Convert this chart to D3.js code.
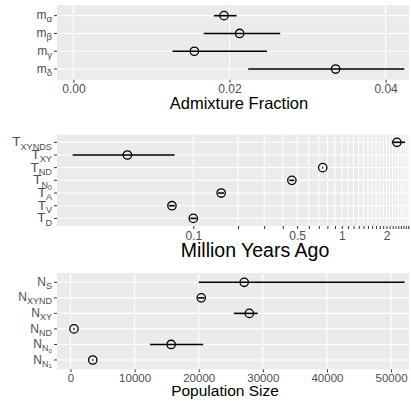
<!DOCTYPE html>
<html>
  <head>
    <title>Estimates</title>
    <script src="https://d3js.org/d3.v7.min.js"></script>
    <style>
      body { margin: 0; background: #ffffff; }
      text { font-family: "Liberation Sans", Arial, sans-serif; }
    </style>
  </head>
  <body>
    <svg width="411" height="405" id="mainsvg"></svg>
    <script>
        // ---- data ----
        // admixture fractions
        const admixLabels = [['m', 'α'], ['m', 'β'], ['m', 'γ'], ['m', 'δ']];
        const admixMean = [0.0193, 0.0213, 0.0155, 0.0336];
        const admixLow  = [0.0180, 0.0167, 0.0127, 0.0224];
        const admixHigh = [0.0209, 0.0265, 0.0248, 0.0424];
        const admixTicks = [0, 0.02, 0.04];
        const admixTickLabels = ['0.00', '0.02', '0.04'];

        // split times, million years ago (log axis)
        const timeLabels = [['T', 'XYNDS'], ['T', 'XY'], ['T', 'ND'], ['T', 'N', '0'], ['T', 'A'], ['T', 'V'], ['T', 'D']];
        const timeMean = [2.35, 0.036, 0.744, 0.461, 0.154, 0.0718, 0.100];
        const timeLow  = [2.17, 0.0154, 0.738, 0.443, 0.147, 0.0685, 0.0955];
        const timeHigh = [2.67, 0.0748, 0.750, 0.479, 0.161, 0.0750, 0.105];
        const timeTicks = [0.1, 0.2, 0.3, 0.4, 0.5, 0.6, 0.7, 0.8, 0.9, 1.0,
                           1.1, 1.2, 1.3, 1.4, 1.5, 1.6, 1.7, 1.8, 1.9, 2.0,
                           2.1, 2.2, 2.3, 2.4, 2.5, 2.6, 2.7, 2.8];
        const timeTickLabels = {0.1: '0.1', 0.5: '0.5', 1: '1', 2: '2'};

        // population sizes
        const popLabels = [['N', 'S'], ['N', 'XYND'], ['N', 'XY'], ['N', 'ND'], ['N', 'N', '0'], ['N', 'N', '1']];
        const popMean = [27100, 20400, 27900, 550, 15700, 3480];
        const popLow  = [20000, 19900, 25500, 450, 12400, 3380];
        const popHigh = [52100, 20900, 29200, 650, 20700, 3580];
        const popTicks = [0, 10000, 20000, 30000, 40000, 50000];

        const svg = d3.select('#mainsvg');
        const left = 57, right = 409;

        // one forest-plot panel
        const drawPanel = function(cfg){
            const g = svg.append('g');
            const yScale = d3.scalePoint()
                .domain(cfg.labels.map((d, i) => i))
                .range([cfg.top, cfg.bottom])
                .padding(0.6);
            const xScale = cfg.xScale;

            g.append('rect')
                .attr('x', left).attr('y', cfg.top)
                .attr('width', right - left).attr('height', cfg.bottom - cfg.top)
                .attr('fill', '#EBEBEB');

            // grid
            g.selectAll('.vgrid').data(cfg.ticks).enter().append('line')
                .attr('x1', d => xScale(d)).attr('x2', d => xScale(d))
                .attr('y1', cfg.top).attr('y2', cfg.bottom)
                .attr('stroke', '#ffffff').attr('stroke-width', cfg.gridWidth);
            g.selectAll('.hgrid').data(yScale.domain()).enter().append('line')
                .attr('x1', left).attr('x2', right)
                .attr('y1', d => yScale(d)).attr('y2', d => yScale(d))
                .attr('stroke', '#ffffff').attr('stroke-width', 1.1);

            // x axis
            const xAxis = d3.axisBottom(xScale)
                .tickValues(cfg.ticks)
                .tickFormat(cfg.format)
                .tickSize(3)
                .tickPadding(2);
            const xg = g.append('g')
                .attr('transform', `translate(0, ${cfg.bottom})`)
                .call(xAxis);
            xg.select('.domain').remove();
            xg.selectAll('line').attr('stroke', '#333333').attr('stroke-width', 1);
            xg.selectAll('text')
                .attr('fill', '#4D4D4D')
                .attr('font-size', cfg.tickFont + 'px')
                .style('font-family', '"Liberation Sans", Arial, sans-serif');
            xg.selectAll('text').filter(function(){ return this.textContent === ''; }).remove();

            // y tick marks
            g.selectAll('.ytick').data(yScale.domain()).enter().append('line')
                .attr('x1', left - 3).attr('x2', left)
                .attr('y1', d => yScale(d)).attr('y2', d => yScale(d))
                .attr('stroke', '#333333').attr('stroke-width', 1);

            // y labels with subscripts
            cfg.labels.forEach((lab, i) => {
                const t = g.append('text')
                    .attr('x', left - 5)
                    .attr('y', yScale(i) + cfg.labelFont * 0.3)
                    .attr('text-anchor', 'end')
                    .attr('fill', '#4D4D4D')
                    .attr('font-size', cfg.labelFont + 'px');
                t.append('tspan').text(lab[0]);
                if (lab[1]) {
                    t.append('tspan')
                        .attr('dy', cfg.labelFont * 0.25)
                        .attr('font-size', (cfg.labelFont * cfg.subRatio) + 'px')
                        .text(lab[1]);
                }
                if (lab[2]) {
                    t.append('tspan')
                        .attr('dy', cfg.labelFont * 0.15)
                        .attr('font-size', (cfg.labelFont * 0.52) + 'px')
                        .text(lab[2]);
                }
            });

            // error bars and points
            const rows = cfg.mean.map((m, i) => ({i: i, mean: m, low: cfg.low[i], high: cfg.high[i]}));
            g.selectAll('.bar').data(rows).enter().append('line')
                .attr('x1', d => xScale(d.low)).attr('x2', d => xScale(d.high))
                .attr('y1', d => yScale(d.i)).attr('y2', d => yScale(d.i))
                .attr('stroke', '#000000').attr('stroke-width', 1.6);
            g.selectAll('.pt').data(rows).enter().append('circle')
                .attr('cx', d => xScale(d.mean))
                .attr('cy', d => yScale(d.i))
                .attr('r', 4.2)
                .attr('fill', 'none')
                .attr('stroke', '#000000')
                .attr('stroke-width', 1.3);

            // axis title
            g.append('text')
                .attr('x', cfg.titleX)
                .attr('y', cfg.titleY)
                .attr('text-anchor', 'middle')
                .attr('fill', '#000000')
                .attr('font-size', cfg.titleFont + 'px')
                .text(cfg.title);
        };

        drawPanel({
            top: 5, bottom: 79.7,
            xScale: d3.scaleLinear().domain([-0.0021, 0.0430]).range([left, right]),
            labels: admixLabels, mean: admixMean, low: admixLow, high: admixHigh,
            ticks: admixTicks, format: (d, i) => admixTickLabels[i],
            tickFont: 12, labelFont: 12, subRatio: 0.8, gridWidth: 1.1,
            title: 'Admixture Fraction', titleX: 239, titleY: 109, titleFont: 16.5
        });

        drawPanel({
            top: 134.7, bottom: 226,
            xScale: d3.scaleLog().domain([0.01208, 2.835]).range([left, right]),
            labels: timeLabels, mean: timeMean, low: timeLow, high: timeHigh,
            ticks: timeTicks, format: d => timeTickLabels[d] || '',
            tickFont: 12, labelFont: 13.5, subRatio: 0.68, gridWidth: 1,
            title: 'Million Years Ago', titleX: 255, titleY: 256.5, titleFont: 19.5
        });

        drawPanel({
            top: 273, bottom: 369.3,
            xScale: d3.scaleLinear().domain([-2100, 52800]).range([left, right]),
            labels: popLabels, mean: popMean, low: popLow, high: popHigh,
            ticks: popTicks, format: d => String(d),
            tickFont: 11.5, labelFont: 12, subRatio: 0.75, gridWidth: 1.1,
            title: 'Population Size', titleX: 225, titleY: 396, titleFont: 15.5
        });
    </script>
  </body>
</html>
